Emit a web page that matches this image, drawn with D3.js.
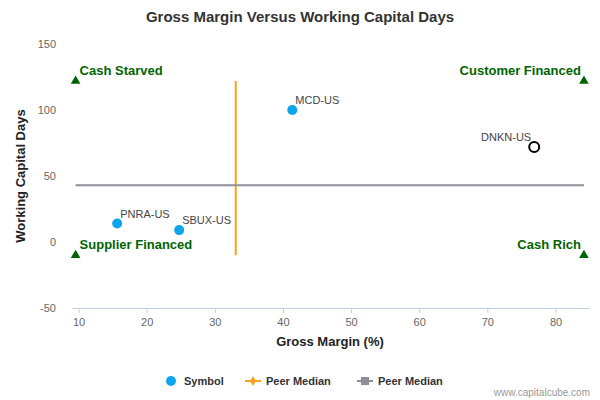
<!DOCTYPE html>
<html><head><meta charset="utf-8">
<script src="https://cdn.jsdelivr.net/npm/d3@7"></script>
<style>body{margin:0;background:#fff}text{font-family:"Liberation Sans",Arial,sans-serif}</style>
</head><body><svg id="c" width="600" height="400"></svg>
<script>
const symbols=["MCD-US","DNKN-US","PNRA-US","SBUX-US"];
const grossMargin=[41.3,76.8,15.6,24.7];
const wcDays=[100,72,14,9];
const highlighted=[false,true,false,false];
const xTicks=[10,20,30,40,50,60,70,80];
const yTicks=[-50,0,50,100,150];
const peerMedianX=33, peerMedianY=43;
const quadrants=[{name:"Cash Starved",x:9.5,y:122},{name:"Customer Financed",x:84.1,y:122},{name:"Supplier Financed",x:9.5,y:-10},{name:"Cash Rich",x:84.1,y:-10}];

const svg=d3.select("#c");
const x=d3.scaleLinear().domain([10,80]).range([79,556]);
const y=d3.scaleLinear().domain([-50,150]).range([308,44]);
const L=72,R=590;
svg.append("text").attr("x",300).attr("y",22).attr("text-anchor","middle").attr("font-size",15).attr("font-weight","bold").attr("fill","#333").text("Gross Margin Versus Working Capital Days");
svg.append("line").attr("x1",L).attr("x2",R).attr("y1",308.5).attr("y2",308.5).attr("stroke","#c0d0e0");
xTicks.forEach(t=>{svg.append("line").attr("x1",x(t)).attr("x2",x(t)).attr("y1",308).attr("y2",313).attr("stroke","#c0d0e0");
svg.append("text").attr("x",x(t)).attr("y",326).attr("text-anchor","middle").attr("font-size",11).attr("fill","#666").text(t);});
yTicks.forEach(t=>{svg.append("text").attr("x",56).attr("y",y(t)+4).attr("text-anchor","end").attr("font-size",11).attr("fill","#666").text(t);});
svg.append("text").attr("x",330).attr("y",346).attr("text-anchor","middle").attr("font-size",13).attr("font-weight","bold").attr("fill","#222").text("Gross Margin (%)");
svg.append("text").attr("transform",`translate(25,176) rotate(-90)`).attr("text-anchor","middle").attr("font-size",13).attr("font-weight","bold").attr("fill","#222").text("Working Capital Days");
svg.append("line").attr("x1",x(peerMedianX)).attr("x2",x(peerMedianX)).attr("y1",y(122)).attr("y2",y(-10)).attr("stroke","#f7a21b").attr("stroke-width",2);
svg.append("line").attr("x1",x(9.5)).attr("x2",x(84.1)).attr("y1",y(peerMedianY)).attr("y2",y(peerMedianY)).attr("stroke","#8d8f9a").attr("stroke-width",2);
const tri=d3.symbol().type(d3.symbolTriangle).size(40);
quadrants.forEach((q,i)=>{
 svg.append("path").attr("d",tri()).attr("transform",`translate(${x(q.x)},${y(q.y)})`).attr("fill","#006400");
 const left=i%2==0;
 svg.append("text").attr("x",left?x(q.x)+4:x(q.x)-3).attr("y",y(q.y)-6).attr("text-anchor",left?"start":"end").attr("font-size",13).attr("font-weight","bold").attr("fill","#006400").text(q.name);
});
symbols.forEach((s,i)=>{
 const cx=x(grossMargin[i]),cy=y(wcDays[i]);
 if(highlighted[i]) svg.append("circle").attr("cx",cx).attr("cy",cy).attr("r",5).attr("fill","#fff").attr("stroke","#000").attr("stroke-width",2);
 else svg.append("circle").attr("cx",cx).attr("cy",cy).attr("r",5).attr("fill","#0ea5ec");
 svg.append("text").attr("x",highlighted[i]?cx-3:cx+3).attr("y",cy-6).attr("text-anchor",highlighted[i]?"end":"start").attr("font-size",11).attr("fill","#444").text(s);
});
const ly=381;
svg.append("circle").attr("cx",171).attr("cy",ly).attr("r",5).attr("fill","#0ea5ec");
svg.append("text").attr("x",184).attr("y",ly+4).attr("font-size",11).attr("font-weight","bold").attr("fill","#333").text("Symbol");
svg.append("line").attr("x1",245).attr("x2",261).attr("y1",ly).attr("y2",ly).attr("stroke","#f7a21b").attr("stroke-width",2);
svg.append("path").attr("d",d3.symbol().type(d3.symbolDiamond).size(30)()).attr("transform",`translate(253,${ly})`).attr("fill","#f7a21b");
svg.append("text").attr("x",266).attr("y",ly+4).attr("font-size",11).attr("font-weight","bold").attr("fill","#333").text("Peer Median");
svg.append("line").attr("x1",357).attr("x2",373).attr("y1",ly).attr("y2",ly).attr("stroke","#8d8f9a").attr("stroke-width",2);
svg.append("rect").attr("x",361).attr("y",ly-4).attr("width",8).attr("height",8).attr("fill","#8d8f9a");
svg.append("text").attr("x",378).attr("y",ly+4).attr("font-size",11).attr("font-weight","bold").attr("fill","#333").text("Peer Median");
svg.append("text").attr("x",590).attr("y",396).attr("text-anchor","end").attr("font-size",10).attr("fill","#999").text("www.capitalcube.com");
</script></body></html>
